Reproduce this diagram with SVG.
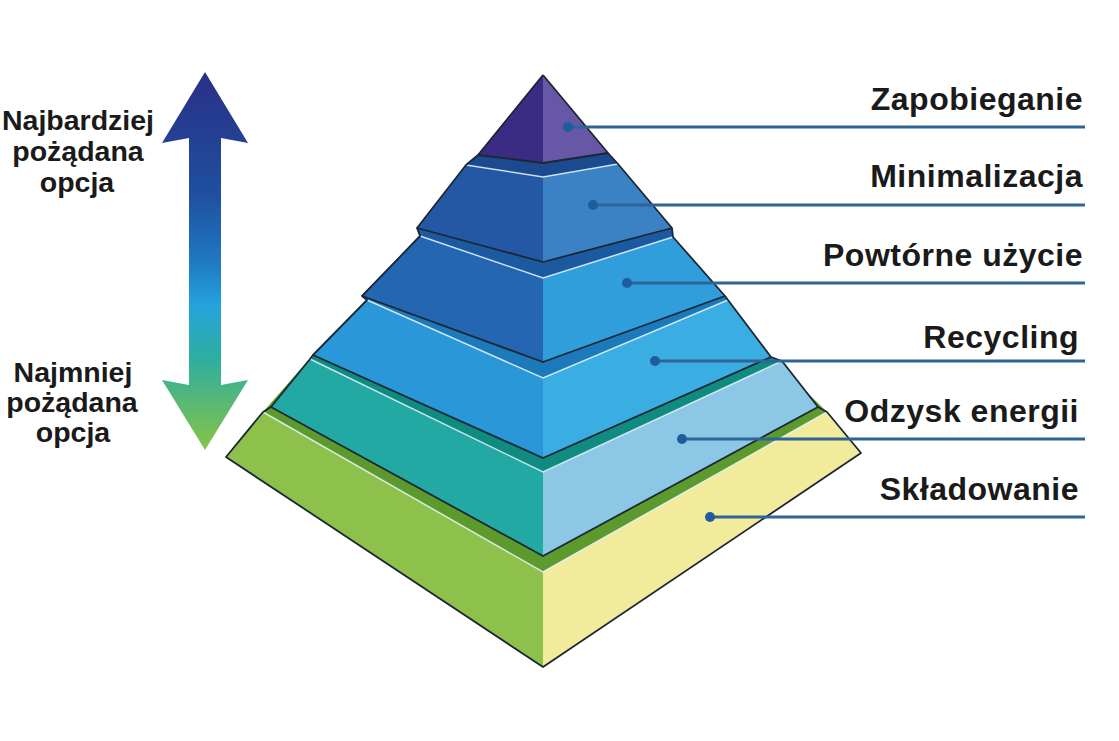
<svg xmlns="http://www.w3.org/2000/svg" width="1119" height="741" viewBox="0 0 1119 741">
<defs>
<linearGradient id="arrowGrad" gradientUnits="userSpaceOnUse" x1="0" y1="72" x2="0" y2="450">
<stop offset="0" stop-color="#2a2f86"/>
<stop offset="0.32" stop-color="#1f4f9f"/>
<stop offset="0.5" stop-color="#1f78c0"/>
<stop offset="0.62" stop-color="#25a4dc"/>
<stop offset="0.76" stop-color="#2fae9f"/>
<stop offset="1" stop-color="#86c444"/>
</linearGradient>
</defs>
<style>
.lbl{font-family:"Liberation Sans",Arial,sans-serif;font-weight:bold;fill:#1a1a1a;}
.rl{font-size:32px;text-anchor:end;letter-spacing:0.5px;}
.ll{font-size:28.5px;text-anchor:middle;}
.outline{fill:none;stroke:#1c2733;stroke-width:1.8;stroke-linejoin:round;}
.hl{fill:none;stroke:#e4f2fb;stroke-width:1.5;stroke-opacity:0.85;}
.conn{stroke:#2f6596;stroke-width:3;fill:none;}
.dot{fill:#1f5c9e;}
</style>
<rect width="1119" height="741" fill="#ffffff"/>

<g id="arrow">
<path d="M205,72 L248,143 L221,138 L221,385 L248,380 L205,450 L162,380 L189,385 L189,138 L162,143 Z" fill="url(#arrowGrad)"/>
</g>

<g id="label-most">
<text class="lbl ll" x="78" y="130">Najbardziej</text>
<text class="lbl ll" x="78" y="161">pożądana</text>
<text class="lbl ll" x="77" y="192">opcja</text>
</g>
<g id="label-least">
<text class="lbl ll" x="73" y="382">Najmniej</text>
<text class="lbl ll" x="72" y="412">pożądana</text>
<text class="lbl ll" x="73" y="442">opcja</text>
</g>

<g id="tier6-skladowanie">
<polygon points="263,412 313,355 543,458 771,357 827,412 543,572" fill="#5c9a2e"/>
<polygon points="263,412 543,572 543,667 226,457" fill="#8dc14b"/>
<polygon points="543,572 827,412 861,453 543,667" fill="#f2eb9c"/>
<polyline class="hl" points="263,412 543,572 827,412"/>
<polyline class="outline" points="271,407 263,412 226,457 543,667 861,453 827,412 818,407"/>
</g>

<g id="tier5-odzysk">
<polygon points="310,359 313,355 543,458 771,357 782,361 543,472" fill="#0f8b80"/>
<polygon points="310,359 543,472 543,556 271,407" fill="#22a9a4"/>
<polygon points="543,472 782,361 818,407 543,556" fill="#8cc7e6"/>
<polyline class="hl" points="310,359 543,472 782,361"/>
<polyline class="outline" points="313,355 310,359 271,407 543,556 818,407 782,361 771,357"/>
</g>

<g id="tier4-recycling">
<polygon points="367,300 362,296 543,362 725,296 728,300 543,378" fill="#1c7abb"/>
<polygon points="367,300 543,378 543,458 313,355" fill="#2a98d8"/>
<polygon points="543,378 728,300 771,357 543,458" fill="#3aade3"/>
<polyline class="hl" points="367,300 543,378 728,300"/>
<polyline class="outline" points="362,296 367,300 313,355 543,458 771,357 728,300 725,296"/>
</g>

<g id="tier3-powtorne">
<polygon points="420,236 417,228 543,262 672,228 673,237 543,278" fill="#1b5aa0"/>
<polygon points="420,236 543,278 543,362 362,296" fill="#2466b2"/>
<polygon points="543,278 673,237 725,296 543,362" fill="#2f9edb"/>
<polyline class="hl" points="420,236 543,278 673,237"/>
<polyline class="outline" points="417,228 420,236 362,296 543,362 725,296 673,237 672,228"/>
</g>

<g id="tier2-minimalizacja">
<polygon points="466,165 478,155 543,163 608,153 618,164 543,177" fill="#1b4a8e"/>
<polygon points="466,165 543,177 543,262 417,228" fill="#2558a4"/>
<polygon points="543,177 618,164 672,228 543,262" fill="#3b82c4"/>
<polyline class="hl" points="466,165 543,177 618,164"/>
<polyline class="outline" points="478,155 466,165 417,228 543,262 672,228 618,164 608,153"/>
</g>

<g id="tier1-zapobieganie">
<polygon points="543,75 478,155 543,163" fill="#3a2b85"/>
<polygon points="543,75 543,163 608,153" fill="#6757a7"/>
<polyline class="outline" points="543,75 478,155 543,163 608,153 543,75"/>
</g>

<g id="connectors">
<line class="conn" x1="568" y1="127" x2="1085" y2="127"/>
<line class="conn" x1="593" y1="205" x2="1085" y2="205"/>
<line class="conn" x1="627" y1="283" x2="1085" y2="283"/>
<line class="conn" x1="655" y1="361" x2="1085" y2="361"/>
<line class="conn" x1="682" y1="439" x2="1085" y2="439"/>
<line class="conn" x1="710" y1="517" x2="1085" y2="517"/>
<circle class="dot" cx="568" cy="127" r="5"/>
<circle class="dot" cx="593" cy="205" r="5"/>
<circle class="dot" cx="627" cy="283" r="5"/>
<circle class="dot" cx="655" cy="361" r="5"/>
<circle class="dot" cx="682" cy="439" r="5"/>
<circle class="dot" cx="710" cy="517" r="5"/>
</g>

<g id="labels">
<text class="lbl rl" x="1083" y="110">Zapobieganie</text>
<text class="lbl rl" x="1083" y="187">Minimalizacja</text>
<text class="lbl rl" x="1083" y="266">Powtórne użycie</text>
<text class="lbl rl" x="1079" y="348">Recycling</text>
<text class="lbl rl" x="1079" y="422">Odzysk energii</text>
<text class="lbl rl" x="1079" y="500">Składowanie</text>
</g>
</svg>
